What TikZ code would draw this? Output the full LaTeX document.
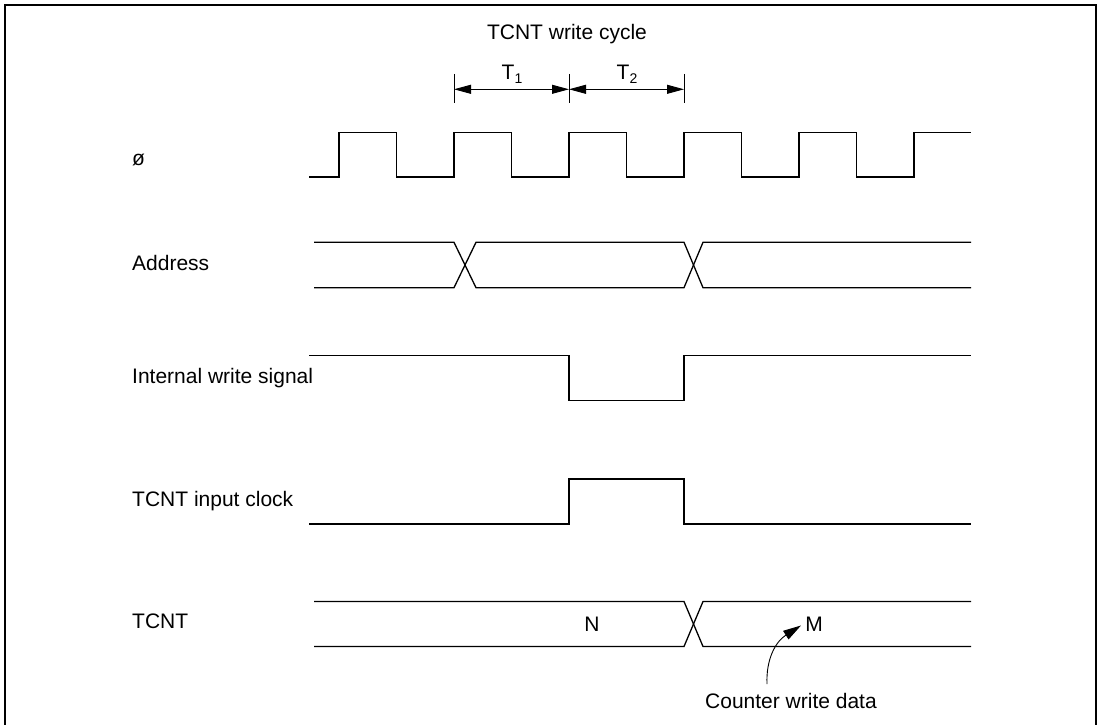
\documentclass[tikz,border=0pt]{standalone}
\usepackage{fontspec}
\setmainfont{Liberation Sans}
\usetikzlibrary{arrows.meta}
\begin{document}
\begin{tikzpicture}[x=1pt,y=-1pt,
  sig/.style={line width=1.3pt, line join=miter},
  lbl/.style={anchor=base west, inner sep=0pt, font=\fontsize{21}{25}\selectfont},
  txt/.style={anchor=base, inner sep=0pt, font=\fontsize{21}{25}\selectfont},
  dim/.style={line width=0.9pt, {Triangle[length=17pt,width=9pt]}-{Triangle[length=17pt,width=9pt]}},
  tick/.style={line width=0.8pt},
  frame/.style={line width=1.6pt}]
\useasboundingbox (0,0) rectangle (1100,725);
\fill[white] (0,0) rectangle (1100,725);
% frame
\draw[frame] (5,726) -- (5,5) -- (1096,5) -- (1096,726);

% labels
\node[lbl] (lphi) at (132,165) {ø};
\node[lbl] (laddr) at (132,270) {Address};
\node[lbl] (lws) at (132,383) {Internal write signal};
\node[lbl] (lclk) at (132,506) {TCNT input clock};
\node[lbl] (ltcnt) at (132,628) {TCNT};

% title and cycle dimensions
\node[txt] (title) at (567,40) {TCNT write cycle};
\node[txt] (t1) at (512,80) {T\raisebox{-4pt}{\fontsize{14}{14}\selectfont 1}};
\node[txt] (t2) at (627,80) {T\raisebox{-4pt}{\fontsize{14}{14}\selectfont 2}};
\coordinate (k1t) at (454,74); \coordinate (k1b) at (454,103);
\coordinate (k2t) at (569,74); \coordinate (k2b) at (569,103);
\coordinate (k3t) at (684,74); \coordinate (k3b) at (684,103);
\draw[tick] (k1t) -- (k1b);
\draw[tick] (k2t) -- (k2b);
\draw[tick] (k3t) -- (k3b);
\coordinate (d1) at (454,89.3); \coordinate (d2) at (569,89.3); \coordinate (d3) at (684,89.3);
\draw[dim] (d1) -- (d2);
\draw[dim] (d2) -- (d3);

% clock
\draw[sig] (309,177) -- (339,177) -- (339,132.5) -- (396.5,132.5) -- (396.5,177)
  -- (454,177) -- (454,132.5) -- (511.5,132.5) -- (511.5,177)
  -- (569,177) -- (569,132.5) -- (626.5,132.5) -- (626.5,177)
  -- (684,177) -- (684,132.5) -- (741.5,132.5) -- (741.5,177)
  -- (799,177) -- (799,132.5) -- (856.5,132.5) -- (856.5,177)
  -- (914,177) -- (914,132.5) -- (971,132.5);

% address
\draw[sig] (314,242.3) -- (454,242.3) -- (476,287.7) -- (684,287.7) -- (703,242.3) -- (971,242.3);
\draw[sig] (314,287.7) -- (454,287.7) -- (476,242.3) -- (684,242.3) -- (703,287.7) -- (971,287.7);

% internal write signal
\draw[sig] (309,355.7) -- (569,355.7) -- (569,400.5) -- (684,400.5) -- (684,355.7) -- (971,355.7);

% TCNT input clock
\draw[sig] (309,524) -- (569,524) -- (569,479) -- (684,479) -- (684,524) -- (971,524);

% TCNT
\draw[sig] (314,601.5) -- (684,601.5) -- (703,646.5) -- (971,646.5);
\draw[sig] (314,646.5) -- (684,646.5) -- (703,601.5) -- (971,601.5);
\node[txt] (nN) at (592,631) {N};
\node[txt] (nM) at (814,631.5) {M};

% counter write data annotation
\node[txt] (cwd) at (791,708) {Counter write data};
\coordinate (cs) at (767,684);
\coordinate (ce) at (801,625.5);
\draw[line width=0.9pt, -{Triangle[length=18pt,width=10pt]}] (cs) .. controls (766,660) and (775,642) .. (ce);
\end{tikzpicture}
\end{document}
